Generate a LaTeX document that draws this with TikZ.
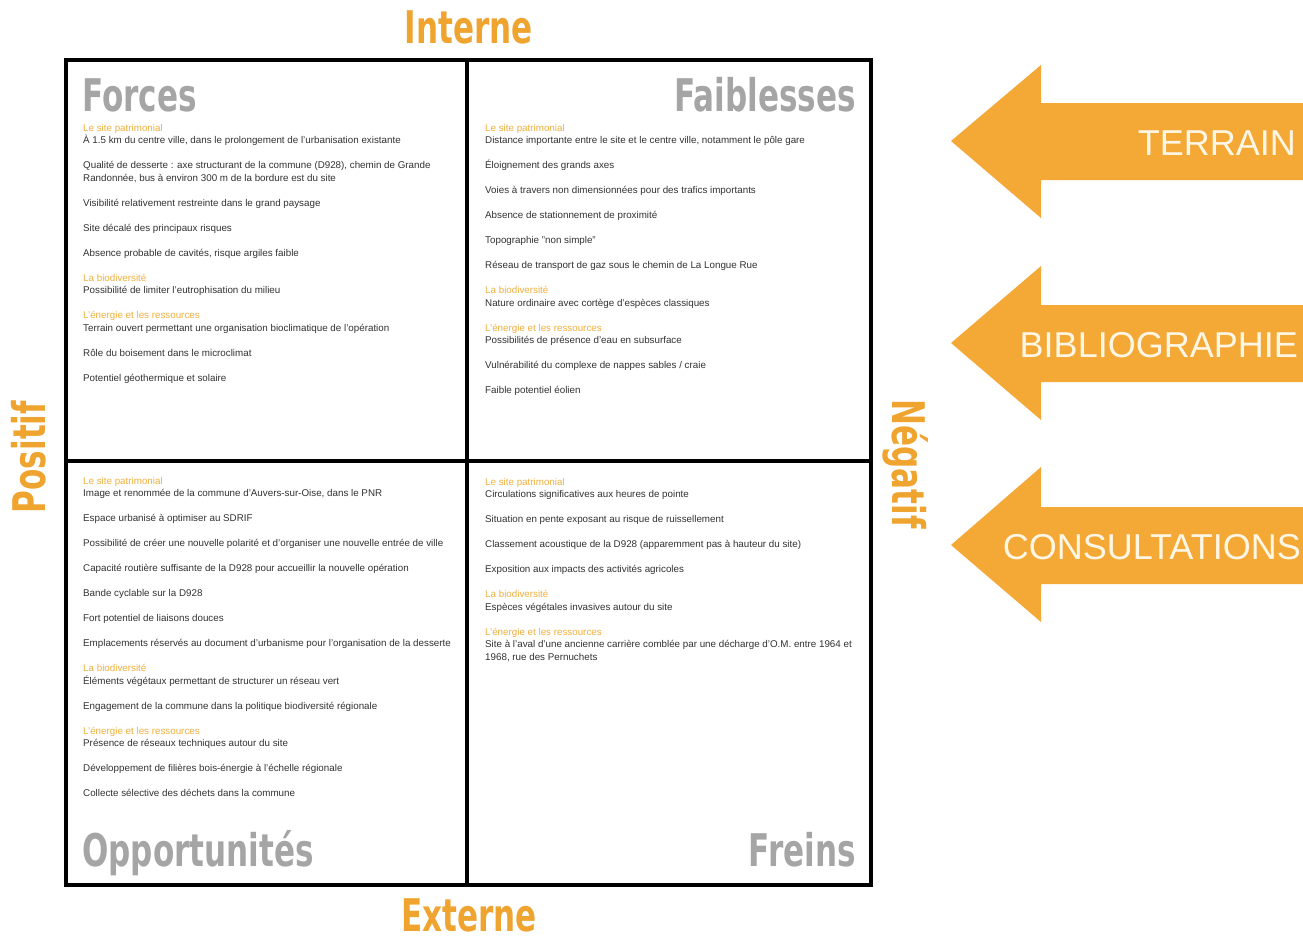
\documentclass[tikz,border=0pt]{standalone}
\usepackage{fontspec}
\setmainfont{Liberation Sans}
\newfontfamily\impact[FakeStretch=0.69]{DejaVu Sans}
\definecolor{orng}{RGB}{240,164,48}
\definecolor{arrw}{RGB}{244,168,54}
\definecolor{hd}{RGB}{240,176,60}
\definecolor{bodytx}{RGB}{50,50,50}
\definecolor{ttl}{RGB}{165,165,165}
\newcommand{\hdr}[1]{{\color{hd}#1}}
\tikzset{
  axislbl/.style={font=\impact\bfseries\fontsize{45}{45}\selectfont, text=orng, inner sep=0pt},
  quadttl/.style={font=\impact\bfseries\fontsize{45}{45}\selectfont, text=ttl, inner sep=0pt},
  bodytext/.style={font=\fontsize{9.8}{12.5}\selectfont, text=bodytx, align=left, inner sep=0pt, anchor=north west},
  arrowshape/.style={fill=arrw, draw=none},
  arrowtext/.style={font=\fontsize{36}{36}\selectfont, text={rgb,255:red,255;green,246;blue,228}, inner sep=0pt, anchor=base east},
  frameline/.style={line width=4pt, draw=black}
}
\begin{document}
\begin{tikzpicture}[x=1pt,y=-1pt]
\useasboundingbox[fill=white] (0,0) rectangle (1303,942);

% frame
\draw[frameline] (66,60) rectangle (871,885);
\draw[frameline] (467,60) -- (467,885);
\draw[frameline] (66,461) -- (871,461);

% axis labels
\node[axislbl, anchor=base] (interne) at (469,44) {Interne};
\node[axislbl, anchor=base] (externe) at (469,931) {Externe};
\node[axislbl, anchor=base, rotate=90] (positif) at (45,457) {Positif};
\node[axislbl, anchor=base, rotate=-90] (negatif) at (892,464) {Négatif};

% quadrant titles
\node[quadttl, anchor=base west] (forces) at (82,111) {Forces};
\node[quadttl, anchor=base east] (faibl) at (856,111) {Faiblesses};
\node[quadttl, anchor=base west] (opport) at (82,866) {Opportunités};
\node[quadttl, anchor=base east] (freins) at (856,866) {Freins};

% Forces
\node[bodytext] (forcestx) at (83,124) {%
\hdr{Le site patrimonial}\\
À 1.5 km du centre ville, dans le prolongement de l'urbanisation existante\\[12.5pt]
Qualité de desserte : axe structurant de la commune (D928), chemin de Grande\\
Randonnée, bus à environ 300 m de la bordure est du site\\[12.5pt]
Visibilité relativement restreinte dans le grand paysage\\[12.5pt]
Site décalé des principaux risques\\[12.5pt]
Absence probable de cavités, risque argiles faible\\[12.5pt]
\hdr{La biodiversité}\\
Possibilité de limiter l'eutrophisation du milieu\\[12.5pt]
\hdr{L'énergie et les ressources}\\
Terrain ouvert permettant une organisation bioclimatique de l'opération\\[12.5pt]
Rôle du boisement dans le microclimat\\[12.5pt]
Potentiel géothermique et solaire};

% Faiblesses
\node[bodytext] (faibltx) at (485,124) {%
\hdr{Le site patrimonial}\\
Distance importante entre le site et le centre ville, notamment le pôle gare\\[12.5pt]
Éloignement des grands axes\\[12.5pt]
Voies à travers non dimensionnées pour des trafics importants\\[12.5pt]
Absence de stationnement de proximité\\[12.5pt]
Topographie \char34non simple\char34\\[12.5pt]
Réseau de transport de gaz sous le chemin de La Longue Rue\\[12.5pt]
\hdr{La biodiversité}\\
Nature ordinaire avec cortège d'espèces classiques\\[12.5pt]
\hdr{L'énergie et les ressources}\\
Possibilités de présence d'eau en subsurface\\[12.5pt]
Vulnérabilité du complexe de nappes sables / craie\\[12.5pt]
Faible potentiel éolien};

% Opportunites
\node[bodytext] (opporttx) at (83,477) {%
\hdr{Le site patrimonial}\\
Image et renommée de la commune d'Auvers-sur-Oise, dans le PNR\\[12.5pt]
Espace urbanisé à optimiser au SDRIF\\[12.5pt]
Possibilité de créer une nouvelle polarité et d'organiser une nouvelle entrée de ville\\[12.5pt]
Capacité routière suffisante de la D928 pour accueillir la nouvelle opération\\[12.5pt]
Bande cyclable sur la D928\\[12.5pt]
Fort potentiel de liaisons douces\\[12.5pt]
Emplacements réservés au document d'urbanisme pour l'organisation de la desserte\\[12.5pt]
\hdr{La biodiversité}\\
Éléments végétaux permettant de structurer un réseau vert\\[12.5pt]
Engagement de la commune dans la politique biodiversité régionale\\[12.5pt]
\hdr{L'énergie et les ressources}\\
Présence de réseaux techniques autour du site\\[12.5pt]
Développement de filières bois-énergie à l'échelle régionale\\[12.5pt]
Collecte sélective des déchets dans la commune};

% Freins
\node[bodytext] (freinstx) at (485,478) {%
\hdr{Le site patrimonial}\\
Circulations significatives aux heures de pointe\\[12.5pt]
Situation en pente exposant au risque de ruissellement\\[12.5pt]
Classement acoustique de la D928 (apparemment pas à hauteur du site)\\[12.5pt]
Exposition aux impacts des activités agricoles\\[12.5pt]
\hdr{La biodiversité}\\
Espèces végétales invasives autour du site\\[12.5pt]
\hdr{L'énergie et les ressources}\\
Site à l'aval d'une ancienne carrière comblée par une décharge d'O.M. entre 1964 et\\
1968, rue des Pernuchets};

% arrows
\fill[arrowshape] (951,141) -- (1041,65) -- (1041,103) -- (1303,103) -- (1303,180) -- (1041,180) -- (1041,218) -- cycle;
\fill[arrowshape] (951,343) -- (1041,266) -- (1041,305) -- (1303,305) -- (1303,382) -- (1041,382) -- (1041,420) -- cycle;
\fill[arrowshape] (951,545) -- (1041,467) -- (1041,507) -- (1303,507) -- (1303,584) -- (1041,584) -- (1041,622) -- cycle;
\node[arrowtext] (terrain) at (1296,155) {TERRAIN};
\node[arrowtext] (biblio) at (1298,357) {BIBLIOGRAPHIE};
\node[arrowtext] (consult) at (1301,559) {CONSULTATIONS};
\end{tikzpicture}
\end{document}
